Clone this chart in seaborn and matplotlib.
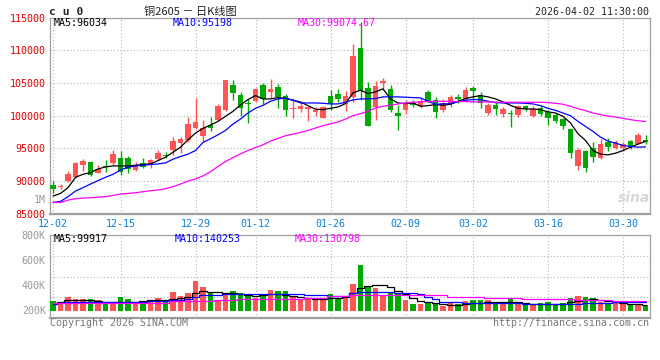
import matplotlib
matplotlib.use("Agg")
import matplotlib.pyplot as plt
import seaborn as sns
import numpy as np

sns.set_style("white")
plt.rcParams["font.family"] = ["DejaVu Sans Mono", "Noto Sans CJK SC"]

# ---- data ----
tick_pos = [0, 9, 19, 27, 37, 47, 56, 66, 76]
tick_labels = ["12-02", "12-15", "12-29", "01-12", "01-26", "02-09", "03-02", "03-16", "03-30"]

opens = [89400, 89000, 90000, 90550, 92450, 92900, 91250, 92300, 92800, 93450,
         93450, 91700, 92800, 92450, 93350, 94000, 94750, 95800, 96300, 98100,
         96900, 98550, 99250, 100800, 104600, 103200, 101870, 102200, 104600, 103650,
         104400, 103050, 101000, 101050, 100950, 100500, 99600, 102950, 103350, 101770,
         102850, 110350, 104200, 101300, 105050, 104000, 100350, 100800, 101850, 101450,
         103600, 102350, 100900, 101700, 102850, 102550, 104200, 103200, 100350, 101580,
         100200, 100400, 100050, 101420, 99940, 101220, 100550, 100050, 99430, 97900,
         92240, 94580, 94950, 93520, 95960, 95100, 94950, 96120, 95710, 96220]
highs = [90000, 89450, 91500, 92900, 93350, 93050, 92450, 93200, 94750, 94600,
         93750, 92950, 93550, 93300, 94750, 94350, 96700, 96700, 99750, 102750,
         99350, 99750, 101700, 105500, 105500, 103600, 102450, 104250, 105000, 105650,
         104750, 103250, 102700, 102100, 101400, 101250, 101400, 103950, 104100, 103800,
         110900, 114300, 105150, 105250, 105750, 104650, 101550, 102350, 102350, 102700,
         103900, 102850, 102600, 103100, 103350, 104300, 104550, 103600, 101950, 102200,
         101320, 100800, 101620, 101620, 101420, 101420, 100810, 100350, 99690, 98000,
         94950, 94790, 95960, 96370, 96480, 96320, 96000, 96300, 97340, 96990]
lows = [88200, 88800, 89850, 90400, 91550, 90800, 91150, 91400, 92450, 90900,
        91250, 91550, 92000, 91900, 93200, 93500, 93950, 94300, 96000, 97900,
        95900, 97700, 99100, 100650, 102350, 100000, 98850, 102000, 101800, 102700,
        101150, 100000, 99550, 100500, 99100, 99850, 99550, 100800, 102050, 100650,
        102100, 102350, 98350, 99300, 103900, 100550, 97750, 100300, 101300, 101200,
        102100, 99550, 100500, 101350, 101950, 102200, 102100, 101220, 100100, 100150,
        99800, 98250, 99800, 100700, 99800, 99900, 98500, 98900, 97900, 93570,
        91730, 91370, 92900, 93310, 94580, 94800, 94640, 94900, 95600, 95600]
closes = [88800, 89200, 91050, 92750, 93050, 90900, 91850, 92100, 94050, 91400,
          91850, 92400, 92150, 93200, 94250, 93850, 96150, 96400, 98750, 98950,
          98100, 98100, 101400, 105400, 103450, 101150, 101770, 104080, 102550, 104080,
          102850, 100800, 101200, 101400, 101350, 100900, 101300, 101770, 102600, 103050,
          109100, 103700, 98400, 104550, 105250, 100800, 99950, 101850, 101650, 102250,
          102250, 100550, 101900, 102850, 102450, 103950, 103770, 101950, 101580, 100960,
          100960, 100300, 101420, 100960, 100920, 100300, 99690, 99170, 98410, 94280,
          94690, 92040, 93670, 95610, 95190, 95960, 95710, 95300, 96990, 95910]

ma5 = [87670, 88080, 88950, 90540, 91000, 91260, 91820, 92130, 92280, 92280,
       92280, 92390, 92490, 92590, 93100, 93620, 94380, 95150, 96280, 97310,
       98030, 98540, 99100, 99870, 100640, 101620, 102440, 103050, 102540, 102540,
       102740, 102640, 102330, 102080, 101510, 100950, 100900, 101100, 101310, 101820,
       103460, 103870, 103360, 103620, 104080, 102540, 101920, 101820, 101920, 101410,
       101510, 101670, 101560, 101720, 102180, 102590, 102850, 103050, 102850, 102540,
       102080, 101560, 101100, 101000, 101000, 100900, 100540, 100390, 99870, 98850,
       97210, 96180, 94640, 94080, 93980, 94230, 94640, 95150, 95620, 96030]
ma10 = [86690, 86850, 87570, 88440, 88950, 89510, 90030, 90540, 91000, 91670,
        92080, 92280, 92390, 92490, 92590, 92740, 93310, 93720, 94080, 94640,
        95870, 96440, 97050, 97720, 98690, 99460, 100380, 101100, 101560, 102180,
        102540, 102640, 102330, 101920, 101920, 101920, 101870, 101770, 101770, 102030,
        102380, 102540, 102540, 102590, 102850, 102850, 102850, 102800, 102740, 102690,
        102180, 101720, 101770, 101820, 102080, 102330, 102440, 102440, 102180, 101970,
        101920, 101920, 101920, 101870, 101770, 101510, 101100, 100790, 100380, 99970,
        99100, 98330, 97560, 96690, 96080, 95770, 95410, 95260, 95150, 95200]
ma30 = [86690, 86690, 87050, 87260, 87360, 87410, 87510, 87570, 87770, 87980,
        88080, 88180, 88330, 88490, 88590, 88800, 89100, 89510, 89970, 90280,
        90750, 91400, 92200, 92950, 93560, 94130, 94640, 95100, 95510, 96080,
        96490, 96900, 97150, 97410, 97720, 98080, 98440, 98740, 99000, 99460,
        99970, 100280, 100640, 101150, 101410, 101560, 101770, 101920, 102030, 102080,
        102130, 102180, 102180, 102180, 102130, 102130, 102080, 102080, 102080, 102030,
        102030, 102030, 102030, 102030, 102030, 102030, 101970, 101870, 101720, 101410,
        101050, 100740, 100380, 100130, 99920, 99770, 99560, 99360, 99200, 99070]

# volume in thousands
volumes_k = [272, 262, 304, 288, 288, 288, 280, 253, 262, 304,
             288, 267, 267, 275, 296, 272, 344, 315, 336, 432,
             384, 336, 277, 336, 352, 336, 320, 293, 325, 360,
             352, 352, 315, 283, 300, 283, 296, 330, 299, 299,
             410, 560, 392, 379, 315, 333, 325, 283, 251, 251,
             259, 251, 235, 259, 251, 275, 283, 283, 283, 267,
             267, 291, 259, 243, 243, 259, 267, 243, 259, 299,
             315, 307, 299, 267, 259, 259, 267, 251, 251, 243]
vma5_k = [245, 262, 280, 280, 280, 280, 275, 262, 262, 267,
          267, 267, 272, 277, 277, 280, 288, 299, 307, 333,
          352, 347, 341, 339, 333, 325, 320, 315, 320, 325,
          325, 320, 315, 307, 299, 291, 291, 293, 299, 307,
          333, 373, 392, 400, 400, 381, 355, 325, 293, 275,
          262, 253, 245, 240, 240, 245, 253, 259, 262, 262,
          262, 264, 262, 253, 251, 251, 248, 245, 248, 262,
          275, 283, 285, 280, 275, 264, 253, 248, 245, 243]
vma10_k = [245, 253, 264, 264, 264, 264, 264, 267, 267, 267,
           267, 267, 267, 269, 269, 269, 280, 280, 291, 307,
           320, 320, 320, 328, 328, 328, 328, 331, 331, 331,
           331, 331, 331, 331, 320, 320, 320, 309, 309, 309,
           333, 347, 347, 347, 347, 347, 339, 339, 339, 325,
           307, 288, 267, 267, 267, 253, 253, 253, 259, 259,
           259, 259, 259, 248, 248, 248, 248, 248, 245, 245,
           245, 259, 259, 259, 259, 262, 262, 262, 262, 262]
vma30_k = [253, 253, 253, 253, 253, 253, 253, 253, 259, 259,
           259, 259, 259, 259, 259, 259, 269, 269, 269, 269,
           269, 269, 277, 277, 277, 291, 291, 291, 291, 291,
           291, 291, 291, 291, 299, 299, 299, 309, 309, 309,
           317, 317, 317, 317, 317, 317, 317, 317, 317, 317,
           317, 317, 317, 304, 304, 304, 304, 304, 296, 296,
           296, 296, 296, 285, 285, 285, 285, 285, 285, 285,
           280, 280, 280, 280, 280, 269, 269, 269, 269, 269]

price_ticks = [85000, 90000, 95000, 100000, 105000, 110000, 115000]
vol_ticks = [200000, 400000, 600000, 800000]
vol_tick_labels = ["200K", "400K", "600K", "800K"]

RED = "#ff5555"
GREEN = "#00a800"
GRID = "#b4b4b4"
W, H = 660, 360


def px_box(left, top, right, bottom):
    return [left / W, 1 - bottom / H, (right - left) / W, (bottom - top) / H]


o = np.array(opens, dtype=float)
c = np.array(closes, dtype=float)
x = np.arange(len(o))
colors = [RED if ci >= oi else GREEN for oi, ci in zip(o, c)]
vol = np.array(volumes_k) * 1000.0

fig = plt.figure(figsize=(6.6, 3.6), dpi=100)
fig.patch.set_facecolor("white")

# ---- price panel ----
ax = fig.add_axes(px_box(50, 17.5, 650, 213.5))
ax.vlines(x, lows, highs, colors=colors, lw=1.0, zorder=2)
body = np.maximum(np.abs(c - o), 120)
ax.bar(x, body, bottom=np.minimum(o, c), width=0.78, color=colors, linewidth=0, zorder=3)
sns.lineplot(x=x, y=ma5, ax=ax, color="black", lw=0.9, zorder=4)
sns.lineplot(x=x, y=ma10, ax=ax, color="#0000ff", lw=0.9, zorder=4)
sns.lineplot(x=x, y=ma30, ax=ax, color="#ff00ff", lw=0.9, zorder=4)
ax.set_xlim(-0.4, 79.6)
ax.set_ylim(85000, 115000)
ax.set_yticks(price_ticks)
ax.set_yticklabels([str(t) for t in price_ticks])
ax.set_xticks(tick_pos)
ax.set_xticklabels(tick_labels)
ax.tick_params(axis="y", length=0, pad=3, labelsize=7.2, labelcolor="#e00000")
ax.tick_params(axis="x", length=0, pad=4, labelsize=7.2, labelcolor="#0a7fd6")
ax.grid(True, color=GRID, linestyle=(0, (1, 2)), lw=0.8)
ax.set_axisbelow(True)
ax.set_xlabel("")
ax.set_ylabel("")
for side, sp in ax.spines.items():
    sp.set_visible(True)
    sp.set_color("#a0a0a0")
    sp.set_linewidth(1.6 if side == "bottom" else 0.9)

# ---- volume panel ----
vax = fig.add_axes(px_box(50, 235, 650, 318))
base = 192000
vax.bar(x, vol - base, bottom=base, width=0.78, color=colors, linewidth=0, zorder=3)
sns.lineplot(x=x, y=np.array(vma5_k) * 1000.0, ax=vax, color="black", lw=0.9,
             drawstyle="steps-mid", zorder=4)
sns.lineplot(x=x, y=np.array(vma10_k) * 1000.0, ax=vax, color="#0000ff", lw=0.9,
             drawstyle="steps-mid", zorder=4)
sns.lineplot(x=x, y=np.array(vma30_k) * 1000.0, ax=vax, color="#ff00ff", lw=0.9,
             drawstyle="steps-mid", zorder=4)
vax.set_xlim(-0.4, 79.6)
vax.set_ylim(136000, 800000)
vax.set_yticks(vol_ticks)
vax.set_yticklabels(vol_tick_labels)
vax.set_xticks(tick_pos)
vax.tick_params(axis="x", length=0, labelbottom=False)
vax.tick_params(axis="y", length=0, pad=3, labelsize=7.2, labelcolor="#999999")
vax.grid(True, axis="x", color=GRID, linestyle=(0, (1, 2)), lw=0.8)
for f in (0.25, 0.5, 0.75):
    vax.plot([0, 1], [f, f], transform=vax.transAxes, color=GRID,
             linestyle=(0, (1, 2)), lw=0.8, zorder=1)
vax.set_axisbelow(True)
vax.set_xlabel("")
vax.set_ylabel("")
for side, sp in vax.spines.items():
    sp.set_visible(True)
    sp.set_color("#a0a0a0")
    sp.set_linewidth(1.6 if side == "bottom" else 0.9)


# ---- texts ----
def ftext(px, py, s, **kw):
    kw.setdefault("fontsize", 7.2)
    kw.setdefault("va", "center")
    fig.text(px / W, 1 - py / H, s, **kw)


ftext(49, 12, "c u 0", fontweight="bold", fontsize=8.2)
ftext(190, 12, "铜2605 － 日K线图", ha="center", fontsize=8,
      family=["Noto Sans CJK SC", "DejaVu Sans"], color="#222222")
ftext(649, 12, "2026-04-02 11:30:00", ha="right")
ftext(54, 23.5, "MA5:96034", color="black")
ftext(173, 23.5, "MA10:95198", color="#0000ff")
ftext(298, 23.5, "MA30:99074.67", color="#ff00ff")
ftext(46, 200, "1M", ha="right", color="#999999")
ftext(54, 238.5, "MA5:99917", color="black")
ftext(175, 238.5, "MA10:140253", color="#0000ff")
ftext(295, 238.5, "MA30:130798", color="#ff00ff")
ftext(50, 323, "Copyright 2026 SINA.COM", color="#777777")
ftext(649, 323, "http://finance.sina.com.cn", ha="right", color="#777777")
ftext(634, 198, "sina", ha="center", fontsize=10, fontweight="bold", style="italic",
      color="#d6d6d6", family=["DejaVu Sans"])

fig.savefig("out.png", dpi=100, facecolor="white")
plt.close(fig)
